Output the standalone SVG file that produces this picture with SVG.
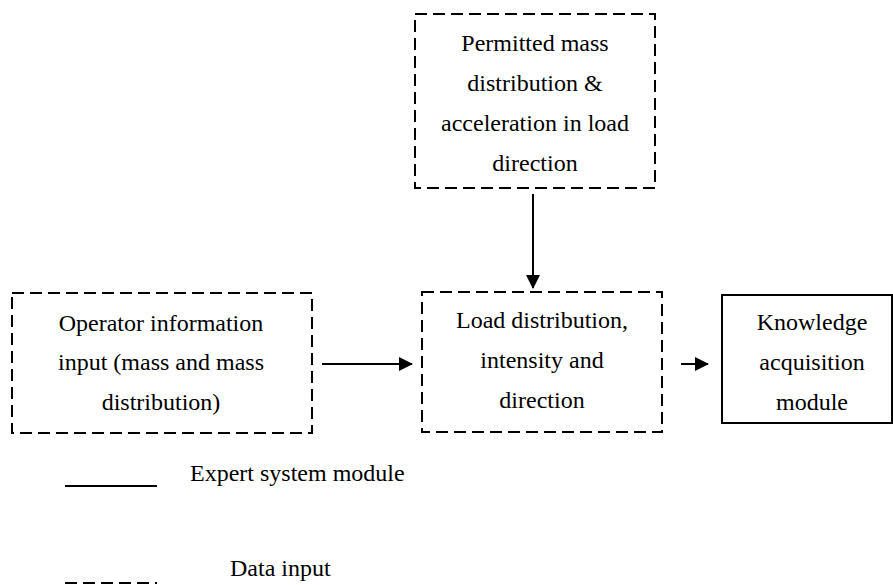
<svg xmlns="http://www.w3.org/2000/svg" width="893" height="585" viewBox="0 0 893 585">
<style>
.dash{fill:none;stroke:#000;stroke-width:2;stroke-dasharray:12 6}
.solid{fill:none;stroke:#000;stroke-width:2}
.t{font-family:"Liberation Serif","Times New Roman",serif;font-size:24px;fill:#000;text-anchor:middle}
.l{font-family:"Liberation Serif","Times New Roman",serif;font-size:24px;fill:#000}
.c{stroke:#000;stroke-width:2;fill:none}
</style>
<defs>
<marker id="ah2" markerWidth="14" markerHeight="14" refX="13" refY="7" orient="auto" markerUnits="userSpaceOnUse" viewBox="0 0 14 14">
<path d="M0,0 L14,7 L0,14 z" fill="#000"/>
</marker>
</defs>
<rect width="893" height="585" fill="#fff"/>
<g id="permitted">
<rect class="dash" x="415" y="14" width="240" height="174"/>
<text class="t" x="535" y="51">Permitted mass</text>
<text class="t" x="535" y="91">distribution &amp;</text>
<text class="t" x="535" y="131">acceleration in load</text>
<text class="t" x="535" y="171">direction</text>
</g>
<g id="operator">
<rect class="dash" x="12" y="293" width="300" height="140"/>
<text class="t" x="161" y="331">Operator information</text>
<text class="t" x="161" y="370">input (mass and mass</text>
<text class="t" x="161" y="410">distribution)</text>
</g>
<g id="load">
<rect class="dash" x="422" y="292" width="240" height="140"/>
<text class="t" x="542" y="328">Load distribution,</text>
<text class="t" x="542" y="368">intensity and</text>
<text class="t" x="542" y="408">direction</text>
</g>
<g id="knowledge">
<rect class="solid" x="722" y="295" width="170" height="128"/>
<text class="t" x="812" y="330">Knowledge</text>
<text class="t" x="812" y="370">acquisition</text>
<text class="t" x="812" y="410">module</text>
</g>
<g id="connectors">
<line class="c" x1="533" y1="194" x2="533" y2="288" marker-end="url(#ah2)"/>
<line class="c" x1="322" y1="364" x2="412" y2="364" marker-end="url(#ah2)"/>
<line class="c" x1="681" y1="364" x2="708" y2="364" marker-end="url(#ah2)"/>
</g>
<g id="legend">
<line class="solid" x1="65" y1="486" x2="157" y2="486"/>
<text class="l" x="190" y="481">Expert system module</text>
<line class="dash" x1="65" y1="583" x2="157" y2="583"/>
<text class="l" x="230" y="576">Data input</text>
</g>
</svg>
